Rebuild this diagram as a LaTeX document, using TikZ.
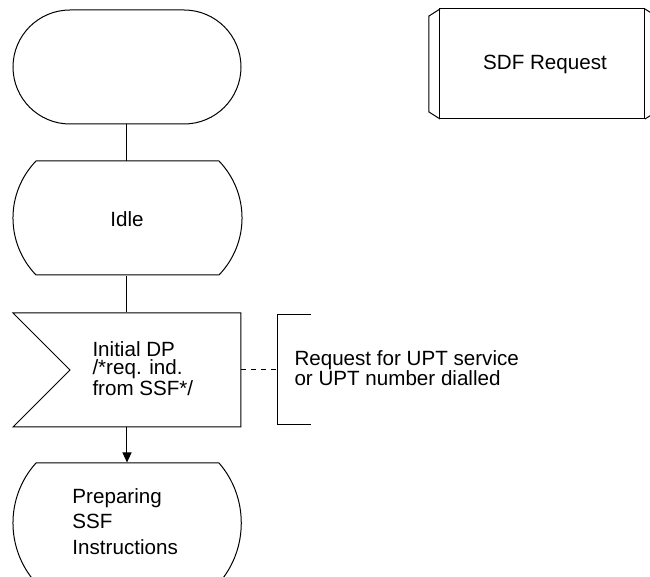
\documentclass[tikz,border=0pt]{standalone}
\usepackage{fontspec}
\setmainfont{Liberation Sans}
\usetikzlibrary{arrows.meta}
\begin{document}
\begin{tikzpicture}[x=0.5pt,y=-0.5pt,line width=0.5pt,font=\fontsize{10.3}{12}\selectfont]
	\useasboundingbox (0,0) rectangle (650,577);
	\clip (0,0) rectangle (650,577);
	% start
	\draw[rounded corners=28.5pt] (13,10) rectangle (241,124);
	\draw node[minimum width=114pt,minimum height=57pt] (s0) at (127,67) {};
	% state Idle
	\draw (36,161) -- (219,161) .. controls (249.7,193) and (249.7,243) .. (219,275) -- (36,275) .. controls (5.3,243) and (5.3,193) .. (36,161) -- cycle;
	\draw node[minimum width=114pt,minimum height=57pt] (s1) at (127,219) {Idle};
	\draw (s0) -- (s1);
	% input Initial DP
	\draw (13,313) -- (241,313) -- (241,427) -- (13,427) -- (70,370) -- cycle;
	\draw node[minimum width=114pt,minimum height=57pt] (i1) at (127,370) {};
	\draw node[align=left,anchor=north west,inner sep=0pt,font={\fontsize{10.3}{8.9}\selectfont\lineskiplimit=-10pt\relax}] (t1) at (92,341) {Initial DP\\/*req. ind.\\[1.6pt]from SSF*/};
	\draw (s1) -- (i1);
	% comment
	\draw (311,315) -- (278,315) -- (278,425) -- (311,425);
	\draw node[minimum width=16.5pt,minimum height=55pt] (c1) at (294.5,370) {};
	\draw node[align=left,anchor=north west,inner sep=0pt,font=\fontsize{10.3}{10}\selectfont] (t2) at (294,350) {Request for UPT service\\or UPT number dialled};
	\draw[dash pattern=on 2.5pt off 2.5pt] (i1) -- (c1);
	% state Preparing SSF Instructions
	\draw (36,463) -- (219,463) .. controls (248.7,497) and (248.7,549) .. (219,583) -- (36,583) .. controls (5.3,549) and (5.3,497) .. (36,463) -- cycle;
	\draw node[minimum width=114pt,minimum height=60pt] (s2) at (127,523) {};
	\draw node[align=left,anchor=north west,inner sep=0pt,font=\fontsize{10.3}{12.75}\selectfont] (t3) at (72,488) {Preparing\\SSF\\Instructions};
	\draw[-{Triangle[length=5pt,width=4.5pt]}] (i1) -- (s2);
	% procedure heading
	\draw (440,9) rectangle (645,119);
	\draw (440,9) -- (429,16) -- (429,112) -- (440,119);
	\draw (645,9) -- (656,16) -- (656,112) -- (645,119);
	\draw node (p1) at (545,64) {SDF Request};
\end{tikzpicture}
\end{document}
